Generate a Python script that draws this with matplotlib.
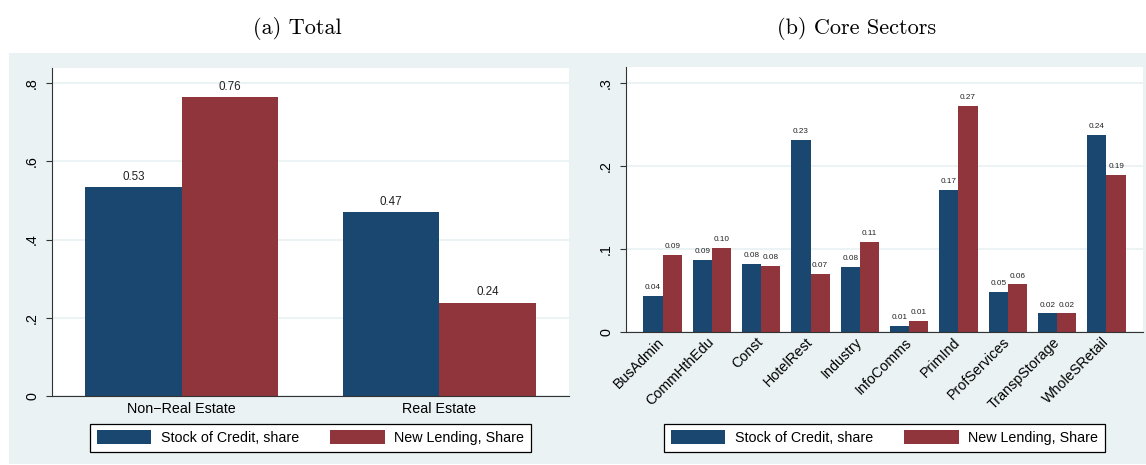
"""
Credit shares: stock of credit vs new lending.
Panel (a) total split by real estate, panel (b) core sectors.
"""

import numpy as np
import matplotlib
matplotlib.use("Agg")
import matplotlib.pyplot as plt
from matplotlib.patches import Rectangle

# ── Data ──────────────────────────────────────────────────────────────────────
TOTAL_CATS   = ["Non\u2212Real Estate", "Real Estate"]
TOTAL_STOCK  = [0.534, 0.470]
TOTAL_NEW    = [0.764, 0.239]

SECTOR_CATS  = ["BusAdmin", "CommHthEdu", "Const", "HotelRest", "Industry",
                "InfoComms", "PrimInd", "ProfServices", "TranspStorage",
                "WholeSRetail"]
SECTOR_STOCK = [0.043, 0.086, 0.082, 0.231, 0.078, 0.007, 0.171, 0.048, 0.022, 0.237]
SECTOR_NEW   = [0.092, 0.101, 0.079, 0.070, 0.108, 0.013, 0.272, 0.057, 0.022, 0.189]

TOTAL_YTICKS   = [0, 0.2, 0.4, 0.6, 0.8]
TOTAL_YLABELS  = ["0", ".2", ".4", ".6", ".8"]
SECTOR_YTICKS  = [0, 0.1, 0.2, 0.3]
SECTOR_YLABELS = ["0", ".1", ".2", ".3"]

SERIES_NAMES = ["Stock of Credit, share", "New Lending, Share"]

# ── Style ─────────────────────────────────────────────────────────────────────
BG_CLR    = "#eaf2f3"
GRID_CLR  = "#eaf2f3"
BLUE      = "#1a476f"
RED       = "#90353b"
FONT      = "Liberation Sans"
FS        = 10.3
W, H      = 1146, 465

plt.rcParams["font.family"] = [FONT, "DejaVu Sans"]

fig = plt.figure(figsize=(W / 100, H / 100), dpi=100, facecolor="white")

# grey band behind both panels
fig.patches.append(Rectangle((9 / W, 1 - 464 / H), (W - 9) / W, (464 - 53) / H,
                             transform=fig.transFigure, facecolor=BG_CLR,
                             edgecolor="none", zorder=-10))


def px_axes(x0, y0, x1, y1):
    """axes from pixel box (top-left origin)"""
    return fig.add_axes([x0 / W, 1 - y1 / H, (x1 - x0) / W, (y1 - y0) / H])


def style_axes(ax, yticks, ylabels, ylim, xlim):
    ax.set_facecolor("white")
    ax.set_ylim(*ylim)
    ax.set_xlim(*xlim)
    ax.set_yticks(yticks, ylabels)
    ax.tick_params(axis="y", labelrotation=90, length=4.3, width=0.8,
                   pad=5, labelsize=FS, color="#333333")
    for lab in ax.get_yticklabels():
        lab.set_va("center")
    ax.tick_params(axis="x", length=0, pad=4, labelsize=FS)
    ax.yaxis.grid(True, color=GRID_CLR, lw=1.3)
    ax.set_axisbelow(True)
    for side in ("top", "right"):
        ax.spines[side].set_visible(False)
    for side in ("left", "bottom"):
        ax.spines[side].set_color("#333333")
        ax.spines[side].set_linewidth(0.8)


def add_legend(ax, cx_px):
    ax.legend(SERIES_NAMES, loc="upper center", ncol=2,
              bbox_to_anchor=(cx_px / W, 1 - 424 / H),
              bbox_transform=fig.transFigure, borderaxespad=0,
              fancybox=False, framealpha=1, edgecolor="black",
              fontsize=FS, handlelength=3.8, handleheight=1.1,
              handletextpad=0.68, columnspacing=2.2, borderpad=0.45)
    ax.get_legend().get_frame().set_linewidth(0.9)


# ── (a) Total ─────────────────────────────────────────────────────────────────
ax1 = px_axes(52, 68, 569, 396)
x = np.arange(len(TOTAL_CATS))
bw = 0.374
b1 = ax1.bar(x - bw / 2, TOTAL_STOCK, bw, color=BLUE, label=SERIES_NAMES[0])
b2 = ax1.bar(x + bw / 2, TOTAL_NEW, bw, color=RED, label=SERIES_NAMES[1])
for bars in (b1, b2):
    ax1.bar_label(bars, fmt="%.2f", padding=3.3, fontsize=8.4, color="#222222")
ax1.set_xticks(x, TOTAL_CATS)
style_axes(ax1, TOTAL_YTICKS, TOTAL_YLABELS, (0, 0.839), (-0.504, 1.504))
add_legend(ax1, 310.5)

# ── (b) Core Sectors ──────────────────────────────────────────────────────────
ax2 = px_axes(626, 67.3, 1143, 331.7)
x = np.arange(len(SECTOR_CATS))
bw = 0.39
b1 = ax2.bar(x - bw / 2, SECTOR_STOCK, bw, color=BLUE, label=SERIES_NAMES[0])
b2 = ax2.bar(x + bw / 2, SECTOR_NEW, bw, color=RED, label=SERIES_NAMES[1])
for bars in (b1, b2):
    ax2.bar_label(bars, fmt="%.2f", padding=3.5, fontsize=5.9, color="#222222")
ax2.set_xticks(x, SECTOR_CATS)
style_axes(ax2, SECTOR_YTICKS, SECTOR_YLABELS, (0, 0.3186), (-0.74, 9.74))
plt.setp(ax2.get_xticklabels(), rotation=45, ha="right", va="center",
         rotation_mode="anchor")
ax2.tick_params(axis="x", pad=6)
add_legend(ax2, 884.5)

# ── Panel titles ──────────────────────────────────────────────────────────────
fig.text(297 / W, 1 - 28 / H, "(a) Total", family="cmr10", fontsize=16,
         ha="center", va="center")
fig.text(857 / W, 1 - 28 / H, "(b) Core Sectors", family="cmr10", fontsize=16,
         ha="center", va="center")

fig.savefig("out.png", dpi=100, facecolor="white")
plt.close(fig)
